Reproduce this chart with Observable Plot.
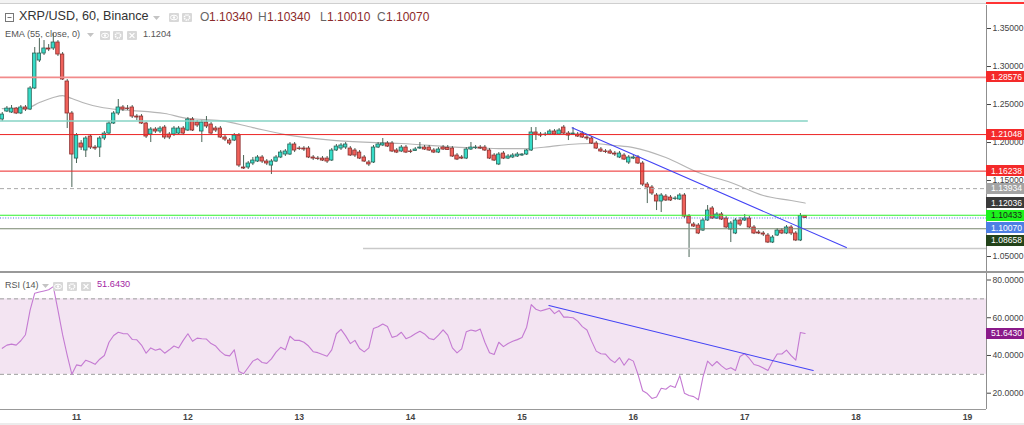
<!DOCTYPE html>
<html><head><meta charset="utf-8">
<script src="https://cdn.jsdelivr.net/npm/d3@7"></script>
<script src="https://cdn.jsdelivr.net/npm/@observablehq/plot@0.6"></script>
<style>
body{margin:0;background:#fff;}
#wrap{position:relative;width:1024px;height:425px;overflow:hidden;background:#fff;font-family:"Liberation Sans",Arial,sans-serif;}
#wrap > svg.plotsvg{position:absolute;left:0;overflow:visible;}
.t{position:absolute;white-space:nowrap;line-height:1;}
.lbl{position:absolute;left:986px;width:38px;height:11px;padding-left:5px;box-sizing:border-box;white-space:nowrap;overflow:hidden;}
.lbl span{position:absolute;left:5px;top:1.6px;font-size:8.6px;line-height:8px;}
#rsi g[aria-label*="x-axis"] text{font-weight:700;}
</style>
</head><body>
<div id="wrap"></div>
<script>
// ---------- DATA ----------
const startHour = 8; // first hourly candle: day 10, 08:00 (hours counted from day 10, 00:00)
const opens = [1.2303,1.2408,1.2395,1.2447,1.2382,1.2461,1.2434,1.2711,1.3079,1.3171,1.3237,1.3237,1.3316,1.3158,1.2803,1.2382,1.1789,1.1987,1.1895,1.2079,1.1934,1.1934,1.2053,1.2118,1.2250,1.2382,1.2461,1.2447,1.2461,1.2342,1.2342,1.2250,1.2105,1.2171,1.2145,1.2197,1.2105,1.2105,1.2118,1.2184,1.2158,1.2303,1.2263,1.2145,1.2263,1.2237,1.2184,1.2184,1.2066,1.2026,1.2026,1.2092,1.1671,1.1671,1.1724,1.1750,1.1803,1.1750,1.1697,1.1750,1.1803,1.1842,1.1842,1.1974,1.1921,1.1921,1.1921,1.1803,1.1789,1.1789,1.1789,1.1763,1.1895,1.1921,1.1934,1.1921,1.1895,1.1868,1.1803,1.1737,1.1737,1.1934,1.1961,1.1987,1.1987,1.1895,1.1882,1.1934,1.1882,1.1888,1.1921,1.1934,1.1934,1.1895,1.1868,1.1934,1.1928,1.1921,1.1829,1.1803,1.1789,1.1908,1.1928,1.1934,1.1934,1.1895,1.1829,1.1711,1.1855,1.1789,1.1803,1.1816,1.1829,1.1842,1.1895,1.2132,1.2105,1.2099,1.2105,1.2145,1.2105,1.2197,1.2118,1.2105,1.2105,1.2118,1.2066,1.2053,1.1987,1.1908,1.1882,1.1882,1.1855,1.1803,1.1829,1.1737,1.1789,1.1803,1.1724,1.1447,1.1408,1.1303,1.1224,1.1289,1.1276,1.1257,1.1250,1.1303,1.1026,1.0921,1.0908,1.0842,1.0974,1.1132,1.1000,1.1053,1.1000,1.0855,1.0803,1.0974,1.0974,1.1000,1.0882,1.0816,1.0803,1.0776,1.0684,1.0776,1.0842,1.0803,1.0882,1.0803,1.0711,1.1034];
const highs = [1.2395,1.2474,1.2487,1.2461,1.2487,1.2487,1.2737,1.3250,1.3368,1.3342,1.3289,1.3434,1.3342,1.3184,1.2829,1.2408,1.2118,1.2026,1.2079,1.2105,1.1961,1.2079,1.2145,1.2276,1.2408,1.2566,1.2487,1.2487,1.2487,1.2368,1.2368,1.2263,1.2197,1.2197,1.2211,1.2224,1.2132,1.2211,1.2211,1.2211,1.2329,1.2329,1.2289,1.2289,1.2342,1.2263,1.2211,1.2211,1.2092,1.2053,1.2118,1.2118,1.1829,1.1750,1.1803,1.1829,1.1829,1.1776,1.1776,1.1829,1.1895,1.1908,1.2000,1.2000,1.1947,1.1947,1.1947,1.1829,1.1816,1.1816,1.1816,1.1921,1.1974,1.1987,1.2000,1.1947,1.1921,1.1895,1.1829,1.1763,1.1961,1.2000,1.2053,1.2013,1.2013,1.1921,1.1961,1.1961,1.1908,1.1934,1.2000,1.1961,1.1961,1.1921,1.1934,1.1961,1.1961,1.1947,1.1855,1.1829,1.1934,1.2000,1.1961,1.1961,1.1961,1.1921,1.1855,1.1868,1.1882,1.1842,1.1855,1.1868,1.1855,1.1908,1.2197,1.2197,1.2132,1.2132,1.2171,1.2171,1.2184,1.2224,1.2145,1.2197,1.2132,1.2145,1.2092,1.2079,1.2013,1.1934,1.1908,1.1908,1.1882,1.1882,1.1855,1.1829,1.1829,1.1829,1.1750,1.1474,1.1434,1.1329,1.1329,1.1316,1.1303,1.1289,1.1329,1.1329,1.1053,1.0947,1.0934,1.1000,1.1171,1.1158,1.1079,1.1079,1.1026,1.0961,1.1000,1.1013,1.1053,1.1026,1.0908,1.0842,1.0829,1.0803,1.0776,1.0868,1.0868,1.0908,1.0908,1.0829,1.1066,1.1034];
const lows = [1.2276,1.2395,1.2382,1.2368,1.2368,1.2408,1.2421,1.2697,1.3053,1.3145,1.3197,1.3211,1.3132,1.2816,1.2184,1.1408,1.1724,1.1895,1.1803,1.1908,1.1895,1.1803,1.2026,1.2105,1.2237,1.2355,1.2408,1.2421,1.2316,1.2289,1.2237,1.2053,1.2000,1.2118,1.2118,1.2039,1.2039,1.2079,1.2105,1.2092,1.2145,1.2145,1.2197,1.2000,1.2184,1.2105,1.2132,1.2053,1.2013,1.1961,1.2013,1.1671,1.1645,1.1645,1.1697,1.1737,1.1724,1.1697,1.1579,1.1737,1.1789,1.1816,1.1829,1.1868,1.1895,1.1882,1.1789,1.1763,1.1763,1.1750,1.1724,1.1750,1.1882,1.1895,1.1908,1.1816,1.1803,1.1776,1.1737,1.1684,1.1724,1.1921,1.1947,1.1934,1.1868,1.1855,1.1868,1.1855,1.1855,1.1882,1.1908,1.1895,1.1882,1.1855,1.1855,1.1895,1.1895,1.1803,1.1763,1.1776,1.1776,1.1895,1.1908,1.1908,1.1882,1.1776,1.1750,1.1697,1.1776,1.1776,1.1789,1.1803,1.1816,1.1829,1.1882,1.2026,1.2066,1.2079,1.2092,1.2092,1.2092,1.2105,1.2026,1.2092,1.2066,1.2053,1.2026,1.1974,1.1908,1.1868,1.1855,1.1842,1.1816,1.1789,1.1763,1.1711,1.1776,1.1711,1.1421,1.1197,1.1303,1.1105,1.1079,1.1224,1.1224,1.1237,1.1237,1.1000,1.0487,1.0882,1.0789,1.0829,1.0961,1.0987,1.0987,1.0974,1.0868,1.0684,1.0789,1.0895,1.0961,1.0868,1.0789,1.0789,1.0763,1.0671,1.0671,1.0763,1.0789,1.0789,1.0776,1.0697,1.0697,1.1001];
const closes = [1.2368,1.2447,1.2447,1.2382,1.2461,1.2434,1.2711,1.3171,1.3171,1.3237,1.3224,1.3316,1.3158,1.2829,1.2382,1.1842,1.2092,1.1934,1.2053,1.1934,1.1921,1.2053,1.2118,1.2250,1.2382,1.2461,1.2434,1.2441,1.2342,1.2329,1.2250,1.2079,1.2171,1.2145,1.2184,1.2066,1.2066,1.2184,1.2184,1.2118,1.2303,1.2158,1.2224,1.2263,1.2211,1.2118,1.2158,1.2066,1.2039,1.1987,1.2092,1.1697,1.1658,1.1724,1.1763,1.1803,1.1750,1.1724,1.1750,1.1803,1.1868,1.1882,1.1974,1.1895,1.1914,1.1908,1.1803,1.1789,1.1783,1.1763,1.1750,1.1895,1.1947,1.1961,1.1974,1.1829,1.1829,1.1789,1.1750,1.1711,1.1934,1.1974,1.1987,1.1947,1.1882,1.1868,1.1934,1.1868,1.1875,1.1908,1.1934,1.1908,1.1895,1.1868,1.1908,1.1908,1.1901,1.1816,1.1776,1.1789,1.1908,1.1934,1.1934,1.1921,1.1895,1.1789,1.1763,1.1842,1.1789,1.1816,1.1829,1.1842,1.1842,1.1895,1.2132,1.2105,1.2092,1.2105,1.2145,1.2105,1.2158,1.2118,1.2092,1.2118,1.2079,1.2066,1.2053,1.1987,1.1921,1.1882,1.1875,1.1855,1.1842,1.1855,1.1776,1.1803,1.1803,1.1724,1.1447,1.1408,1.1329,1.1224,1.1303,1.1237,1.1237,1.1263,1.1303,1.1026,1.0934,1.0895,1.0803,1.0974,1.1105,1.1000,1.1053,1.0987,1.0882,1.0934,1.0974,1.0921,1.1000,1.0882,1.0803,1.0803,1.0789,1.0684,1.0750,1.0842,1.0803,1.0882,1.0803,1.0711,1.1034,1.1007];
const rsiValues = [43.8,45.5,46,45.5,47.8,51,64,73,73.6,74.2,74.8,76.5,64,51,40,30,35,34.5,37.5,36.5,35.3,38,40,47,50.6,52.3,51.6,51.5,48.5,48.3,45.5,41.2,44,42.8,43.5,41.2,43,45,44,48,51.5,47.5,49.2,48.9,48.7,46.3,45,42.2,40.2,39.8,43,31.5,30.3,33.6,37,38.3,36.3,35.8,38.2,41.8,44.3,43,50.2,48,48,47,45,42,41.5,40.5,39.6,43,51.5,53.8,50.4,46.3,48,43.7,41.9,44,54.3,55.2,56.7,55.4,49.6,50.3,52.3,48.9,49.9,51.5,52.8,51.4,49,48.4,50.8,53.6,50.8,44,41.4,43.5,52.6,53.5,52.9,54,47,41.4,40.5,47,44.7,46.3,47.5,48.4,49.5,55,67,64.5,63.6,64.3,65,62.2,63.8,60.3,60.3,60,58.2,55.3,53.5,47.6,42.3,40.9,40.7,37.9,36.2,38.9,34.8,38.2,37,30,21.3,19.8,17.2,18,22.6,22.1,24,23,29.3,20,18.8,18.2,16.5,28.5,37,34.5,36.8,34.5,32.6,33.5,32,39.5,41,38.4,35.2,34.5,33.4,32,36.8,40.8,40.8,42.8,39.9,37.5,52.2,51.643];
const emaHours  = [8,13,16,19,21,23,26,29,33,36,43,48,55,62,69,80,94,108,115,121,126,130,135,140,144,151,158,165,172,178,181];
const emaValues = [1.2447,1.2447,1.2526,1.2592,1.2618,1.2579,1.2513,1.2467,1.2434,1.2421,1.2382,1.2316,1.2289,1.2197,1.2105,1.2026,1.1987,1.1934,1.1921,1.1921,1.1947,1.1974,1.1987,1.1961,1.1934,1.1803,1.1605,1.1474,1.1303,1.1237,1.1204];
const priceTrendHours  = [130.8, 189.9];
const priceTrendValues = [1.2193, 1.0618];
const rsiTrendHours  = [125.8, 182.75];
const rsiTrendValues = [66.5, 32.0];
const levelValues = [1.28576, 1.21048, 1.16238, 1.13934, 1.10433, 1.10070, 1.08658];
const tealLevel = {value: 1.2283, fromHour: 7.62, toHour: 181.7};
const grayLevel = {value: 1.0605, fromHour: 85.85, toHour: 220.1};
const rsiBand = [30, 70];
const priceTicks = [1.05, 1.15, 1.20, 1.25, 1.30, 1.35];
const rsiTicks = [20, 40, 60, 80];
const dayTickHours = [24, 48, 72, 96, 120, 144, 168, 192, 216];
const dayLabels = ["11","12","13","14","15","16","17","18","19"];
const priceLabelValues = [1.28576, 1.21048, 1.16238, 1.13934, 1.12036, 1.10433, 1.10070, 1.08658];
const priceLabelTexts  = ["1.28576","1.21048","1.16238","1.13934","1.12036","1.10433","1.10070","1.08658"];
const rsiLast = 51.643, rsiLastText = "51.6430";
const header = {symbol: "XRP/USD, 60, Binance", o: "1.10340", h: "1.10340", l: "1.10010", c: "1.10070"};
const emaLegend = {name: "EMA (55, close, 0)", value: "1.1204"};
const rsiLegend = {name: "RSI (14)", value: rsiLastText};

// ---------- STYLES ----------
const xDomain = [7.62, 220.1];
const priceDomain = [1.0303, 1.3803];
const rsiDomain = [11.36, 83.45];
const levelStyles = [
  {stroke: "#f28b8b", width: 1.6},
  {stroke: "#ec2424", width: 1},
  {stroke: "#ec2424", width: 1},
  {stroke: "#a9a9a9", width: 1, dash: "4,3"},
  {stroke: "#2ef02e", width: 1.2},
  {stroke: "#4a6ee0", width: 1, dash: "1,1.6"},
  {stroke: "#77866e", width: 1.2}
];
const labelStyles = [
  {bg: "#f42a2a", fg: "#fff"}, {bg: "#f42a2a", fg: "#fff"}, {bg: "#f42a2a", fg: "#fff"},
  {bg: "#a3a3a3", fg: "#fff"}, {bg: "#3a3a3a", fg: "#fff"}, {bg: "#1cf21c", fg: "#1d1d1d"},
  {bg: "#4d7fe4", fg: "#fff"}, {bg: "#23431a", fg: "#fff"}
];
const UP = "#36dcc8", DOWN = "#f0615a", UP_EDGE = "#2a6357", DOWN_EDGE = "#8a2e2e", WICK = "#4a6557";
const font = "Liberation Sans, Arial, sans-serif";

const candles = opens.map((o, i) => ({t: startHour + i, o, h: highs[i], l: lows[i], c: closes[i], up: closes[i] >= o}));
const ema = emaHours.map((t, i) => ({t, v: emaValues[i]}));
const rsi = rsiValues.map((v, i) => ({t: startHour + i, v}));
const pTrend = priceTrendHours.map((t, i) => ({t, v: priceTrendValues[i]}));
const rTrend = rsiTrendHours.map((t, i) => ({t, v: rsiTrendValues[i]}));

const levelMarks = levelValues.map((v, i) => Plot.ruleY([v], {
  stroke: levelStyles[i].stroke, strokeWidth: levelStyles[i].width,
  strokeDasharray: levelStyles[i].dash
}));

const main = Plot.plot({
  width: 1024, height: 272,
  marginLeft: 0, marginRight: 38, marginTop: 5, marginBottom: 1,
  style: {background: "transparent", overflow: "visible", fontFamily: font, fontSize: "8.6px", color: "#444"},
  x: {domain: xDomain, axis: null},
  y: {domain: priceDomain, axis: "right", ticks: priceTicks, tickFormat: d => d.toFixed(5), tickSize: 4, tickPadding: 2, label: null},
  marks: [
    Plot.line(ema, {x: "t", y: "v", stroke: "#b5b5b5", strokeWidth: 1.2, curve: "monotone-x"}),
    Plot.ruleX(candles, {x: "t", y1: "l", y2: "h", stroke: WICK, strokeWidth: 1}),
    Plot.rect(candles, {x1: d => d.t - 0.37, x2: d => d.t + 0.37, y1: "o", y2: "c",
      fill: d => d.up ? UP : DOWN, stroke: d => d.up ? UP_EDGE : DOWN_EDGE, strokeWidth: 0.8}),
    Plot.ruleY([tealLevel], {y: "value", x1: "fromHour", x2: "toHour", stroke: "#86d3c4", strokeWidth: 1.6}),
    Plot.ruleY([grayLevel], {y: "value", x1: "fromHour", x2: "toHour", stroke: "#c9c9c9", strokeWidth: 1.6}),
    ...levelMarks,
    Plot.line(pTrend, {x: "t", y: "v", stroke: "#4343f5", strokeWidth: 1.1}),
    Plot.ruleX([xDomain[1]], {stroke: "#8f8f8f", strokeWidth: 1})
  ]
});

const rsiPlot = Plot.plot({
  width: 1024, height: 153,
  marginLeft: 0, marginRight: 38, marginTop: 1, marginBottom: 16,
  style: {background: "transparent", overflow: "visible", fontFamily: font, fontSize: "8.6px", color: "#444"},
  x: {domain: xDomain, ticks: dayTickHours, tickFormat: d => dayLabels[dayTickHours.indexOf(d)], tickSize: 0, tickPadding: 4, label: null},
  y: {domain: rsiDomain, axis: "right", ticks: rsiTicks, tickFormat: d => d.toFixed(4), tickSize: 4, tickPadding: 2, label: null},
  marks: [
    Plot.rect([{lo: rsiBand[0], hi: rsiBand[1]}], {y1: "lo", y2: "hi", fill: "#f3e4f2"}),
    Plot.ruleY(rsiBand, {stroke: "#9d9d9d", strokeDasharray: "4,3", strokeWidth: 1}),
    Plot.line(rsi, {x: "t", y: "v", stroke: "#c47ad2", strokeWidth: 1.1}),
    Plot.line(rTrend, {x: "t", y: "v", stroke: "#4343f5", strokeWidth: 1.1}),
    Plot.ruleX([xDomain[1]], {stroke: "#8f8f8f", strokeWidth: 1})
  ]
});

// ---------- LAYOUT ----------
const wrap = document.getElementById("wrap");
function deco(css) { const d = document.createElement("div"); d.style.position = "absolute"; Object.assign(d.style, css); wrap.appendChild(d); }
deco({left: "0px", top: "0px", width: "1024px", height: "3px", background: "#f3f3f3"});
deco({left: "0px", top: "3px", width: "986px", height: "1px", background: "#cfcfcf"});
deco({left: "986px", top: "2px", width: "38px", height: "1.5px", background: "#f33"});

main.classList.add("plotsvg"); main.style.top = "0px"; wrap.appendChild(main);
rsiPlot.classList.add("plotsvg"); rsiPlot.id = "rsi"; rsiPlot.style.top = "272px"; wrap.appendChild(rsiPlot);

deco({left: "0px", top: "271px", width: "1024px", height: "1.5px", background: "#999"});
deco({left: "0px", top: "408.5px", width: "986px", height: "1px", background: "#999"});
deco({left: "0px", top: "423px", width: "1024px", height: "2px", background: "#ececec"});

function txt(x, top, s, size, color, extra) {
  const d = document.createElement("div"); d.className = "t";
  d.style.left = x + "px"; d.style.top = top + "px"; d.style.fontSize = size + "px"; d.style.color = color;
  d.textContent = s; if (extra) Object.assign(d.style, extra); wrap.appendChild(d);
}
const NS = "http://www.w3.org/2000/svg";
function svgIcon(x, y, w, h, inner) {
  const s = document.createElementNS(NS, "svg");
  s.setAttribute("width", w); s.setAttribute("height", h);
  s.style.position = "absolute"; s.style.left = x + "px"; s.style.top = y + "px";
  s.innerHTML = inner; wrap.appendChild(s);
}
function box(x, y, kind) {
  const bg = '<rect width="10" height="9" rx="1" fill="#d8d8d8"/>';
  const g = kind === "eye" ? '<ellipse cx="5" cy="4.5" rx="3.6" ry="2.3" fill="none" stroke="#fff" stroke-width="1"/><circle cx="5" cy="4.5" r="1.2" fill="#fff"/>'
    : kind === "gear" ? '<circle cx="5" cy="4.5" r="2.6" fill="none" stroke="#fff" stroke-width="1.6" stroke-dasharray="1.3 0.75"/><circle cx="5" cy="4.5" r="0.9" fill="#d8d8d8"/>'
    : '<path d="M2.6 2.1 L7.4 6.9 M7.4 2.1 L2.6 6.9" stroke="#fff" stroke-width="1.3"/>';
  svgIcon(x, y, 10, 9, bg + g);
}
function caret(x, y) { svgIcon(x, y, 7, 4, '<path d="M0 0 L7 0 L3.5 4 Z" fill="#c4c4c4"/>'); }

// header row
svgIcon(5, 12.5, 9, 9, '<rect x="0.5" y="0.5" width="8" height="8" fill="none" stroke="#777" stroke-width="1"/><path d="M2.5 4.5 H6.5" stroke="#777" stroke-width="1"/>');
txt(19, 10.3, header.symbol, 12.6, "#333");
caret(153, 15.5);
box(169, 12.5, "eye"); box(182, 12.5, "gear");
const ohlcX = [[200, 9, "O", header.o], [258, 9, "H", header.h], [320, 7, "L", header.l], [377, 9, "C", header.c]];
ohlcX.forEach(([x, w, k, v]) => { txt(x, 10.5, k, 12, "#666"); txt(x + w, 10.5, v, 12, "#8c2a2a"); });

// EMA legend
txt(5, 29.6, emaLegend.name, 9.2, "#555");
caret(87, 32.5);
box(100, 30.5, "eye"); box(113, 30.5, "gear"); box(127, 30.5, "x");
txt(143, 29.6, emaLegend.value, 9.2, "#555");

// RSI legend
txt(5, 280.6, rsiLegend.name, 9, "#555");
caret(42, 283.5);
box(53, 281.5, "eye"); box(67, 281.5, "gear"); box(81, 281.5, "x");
txt(97, 280.4, rsiLegend.value, 9.2, "#a326a3");

// price labels on the right axis (stacked to avoid overlaps, like the reference)
function priceBox(yCenter, text, bg, fg) {
  const d = document.createElement("div"); d.className = "lbl";
  d.style.top = (yCenter - 5.5) + "px"; d.style.background = bg;
  const s = document.createElement("span"); s.style.color = fg; s.textContent = text;
  d.appendChild(s); wrap.appendChild(d);
}
const ys = main.scale("y");
const labs = priceLabelValues.map((v, i) => ({y: ys.apply(v), text: priceLabelTexts[i], st: labelStyles[i]}))
  .sort((a, b) => a.y - b.y);
let prev = -1e9;
labs.forEach(l => { if (l.y < prev + 12.5) l.y = prev + 12.5; prev = l.y; });
labs.forEach(l => priceBox(l.y, l.text, l.st.bg, l.st.fg));
priceBox(rsiPlot.scale("y").apply(rsiLast) + 272, rsiLastText, "#8a1a8a", "#fff");
</script>
</body></html>
